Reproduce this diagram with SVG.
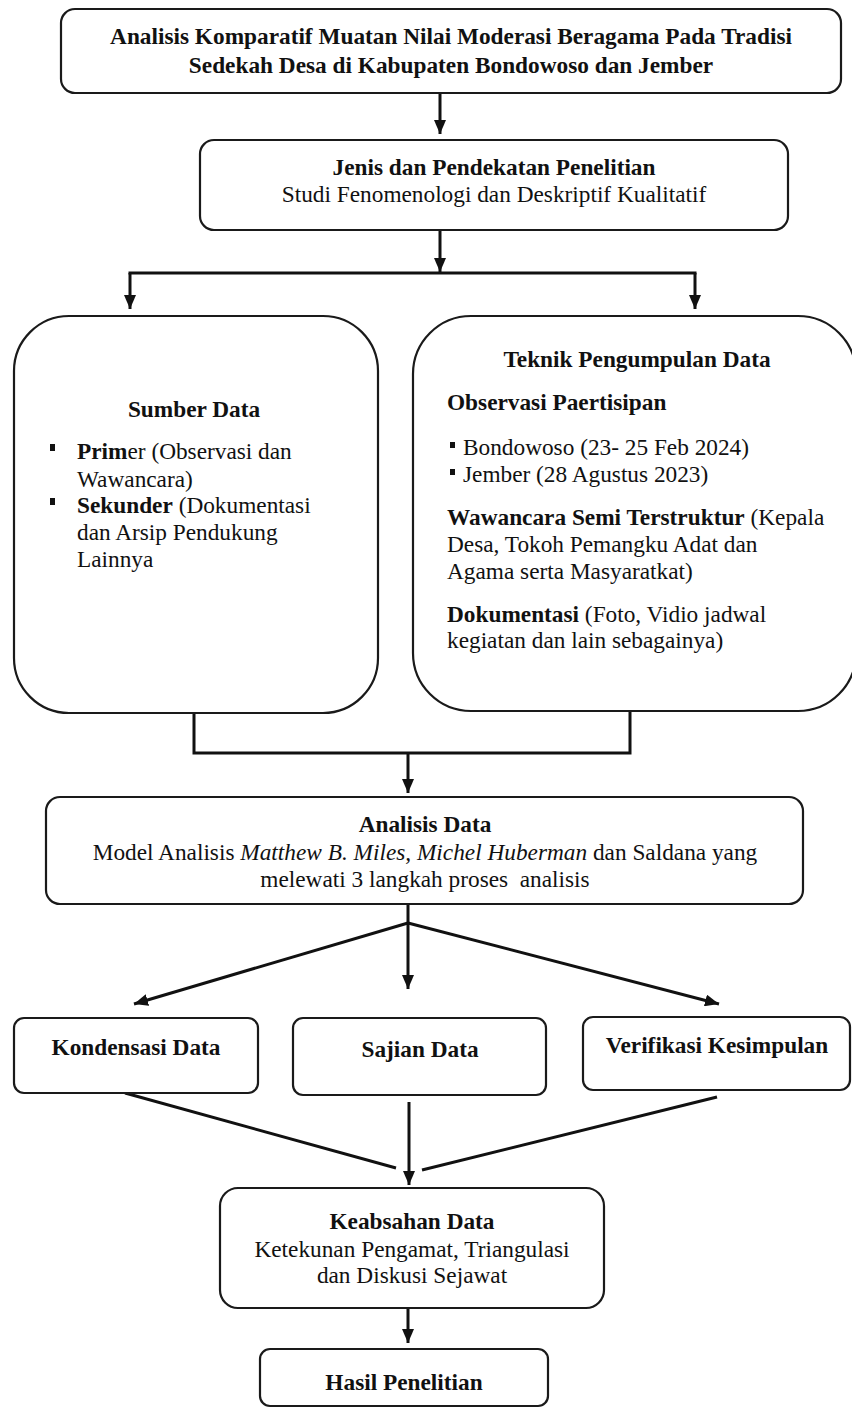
<svg xmlns="http://www.w3.org/2000/svg" width="852" height="1410" viewBox="0 0 852 1410">
<defs>
<style>
.box{fill:#fff;stroke:#1a1a1a;stroke-width:2.2}
.t{font-family:"Liberation Serif","Times New Roman",serif;font-size:23.3px;fill:#111}
.c{text-anchor:middle}
.b{font-weight:bold}
.i{font-style:italic}
.ln{fill:none;stroke:#111;stroke-width:3}
.bul{fill:#111}
</style>
<marker id="ah" markerUnits="userSpaceOnUse" markerWidth="15" markerHeight="12" refX="14" refY="6" orient="auto">
<path d="M0,0 L14,6 L0,12 z" fill="#111"/>
</marker>
</defs>
<rect width="852" height="1410" fill="#fff"/>

<g id="connectors">
<line class="ln" x1="440" y1="93" x2="440" y2="134" marker-end="url(#ah)"/>
<line class="ln" x1="440" y1="230" x2="440" y2="272" marker-end="url(#ah)"/>
<line class="ln" x1="128.5" y1="273" x2="696.5" y2="273"/>
<line class="ln" x1="130" y1="273" x2="130" y2="309" marker-end="url(#ah)"/>
<line class="ln" x1="695" y1="273" x2="695" y2="309" marker-end="url(#ah)"/>
<polyline class="ln" points="194,713 194,753 630,753 630,710"/>
<line class="ln" x1="408" y1="753" x2="408" y2="793" marker-end="url(#ah)"/>
<line class="ln" x1="408" y1="904" x2="408" y2="989" marker-end="url(#ah)"/>
<line class="ln" x1="408" y1="923" x2="134" y2="1004" marker-end="url(#ah)"/>
<line class="ln" x1="408" y1="923" x2="719" y2="1004" marker-end="url(#ah)"/>
<line class="ln" x1="125" y1="1093" x2="396" y2="1168"/>
<line class="ln" x1="717" y1="1097" x2="422" y2="1170"/>
<line class="ln" x1="409" y1="1102" x2="409" y2="1185" marker-end="url(#ah)"/>
<line class="ln" x1="408" y1="1308" x2="408" y2="1343" marker-end="url(#ah)"/>
</g>

<g id="n-judul">
<rect class="box" x="61" y="9" width="780" height="84" rx="14"/>
<text class="t b c" x="451" y="44">Analisis Komparatif Muatan Nilai Moderasi Beragama Pada Tradisi</text>
<text class="t b c" x="451" y="73">Sedekah Desa di Kabupaten Bondowoso dan Jember</text>
</g>

<g id="n-jenis">
<rect class="box" x="200" y="140" width="588" height="90" rx="14"/>
<text class="t b c" x="494" y="175">Jenis dan Pendekatan Penelitian</text>
<text class="t c" x="494" y="202">Studi Fenomenologi dan Deskriptif Kualitatif</text>
</g>

<g id="n-sumber">
<rect class="box" x="14" y="316" width="364" height="397" rx="55"/>
<text class="t b c" x="194" y="417">Sumber Data</text>
<rect class="bul" x="50" y="444" width="5" height="7"/>
<text class="t" x="77" y="459"><tspan class="b">Prim</tspan>er (Observasi dan</text>
<text class="t" x="77" y="487">Wawancara)</text>
<rect class="bul" x="50" y="498" width="5" height="7"/>
<text class="t" x="77" y="513"><tspan class="b">Sekunder</tspan> (Dokumentasi</text>
<text class="t" x="77" y="540">dan Arsip Pendukung</text>
<text class="t" x="77" y="567">Lainnya</text>
</g>

<g id="n-teknik">
<rect class="box" x="413" y="316" width="443" height="395" rx="58"/>
<text class="t b c" x="637" y="367">Teknik Pengumpulan Data</text>
<text class="t b" x="447" y="410">Observasi Paertisipan</text>
<rect class="bul" x="450" y="442" width="5" height="6"/>
<text class="t" x="463" y="455">Bondowoso (23- 25 Feb 2024)</text>
<rect class="bul" x="450" y="469" width="5" height="6"/>
<text class="t" x="463" y="482">Jember (28 Agustus 2023)</text>
<text class="t" x="447" y="525"><tspan class="b">Wawancara Semi Terstruktur</tspan> (Kepala</text>
<text class="t" x="447" y="552">Desa, Tokoh Pemangku Adat dan</text>
<text class="t" x="447" y="579">Agama serta Masyaratkat)</text>
<text class="t" x="447" y="622"><tspan class="b">Dokumentasi</tspan> (Foto, Vidio jadwal</text>
<text class="t" x="447" y="648">kegiatan dan lain sebagainya)</text>
</g>

<g id="n-analisis">
<rect class="box" x="46" y="797" width="757" height="107" rx="14"/>
<text class="t b c" x="425" y="832">Analisis Data</text>
<text class="t c" x="425" y="860">Model Analisis <tspan class="i">Matthew B. Miles, Michel Huberman</tspan> dan Saldana yang</text>
<text class="t c" x="425" y="887" xml:space="preserve">melewati 3 langkah proses  analisis</text>
</g>

<g id="n-kondensasi">
<rect class="box" x="14" y="1018" width="244" height="75" rx="10"/>
<text class="t b c" x="136" y="1055">Kondensasi Data</text>
</g>

<g id="n-sajian">
<rect class="box" x="293" y="1018" width="253" height="77" rx="10"/>
<text class="t b c" x="420" y="1057">Sajian Data</text>
</g>

<g id="n-verifikasi">
<rect class="box" x="583" y="1017" width="267" height="73" rx="10"/>
<text class="t b c" x="717" y="1053">Verifikasi Kesimpulan</text>
</g>

<g id="n-keabsahan">
<rect class="box" x="220" y="1188" width="384" height="120" rx="18"/>
<text class="t b c" x="412" y="1229">Keabsahan Data</text>
<text class="t c" x="412" y="1257">Ketekunan Pengamat, Triangulasi</text>
<text class="t c" x="412" y="1283">dan Diskusi Sejawat</text>
</g>

<g id="n-hasil">
<rect class="box" x="260" y="1349" width="288" height="57" rx="10"/>
<text class="t b c" x="404" y="1390">Hasil Penelitian</text>
</g>
</svg>
